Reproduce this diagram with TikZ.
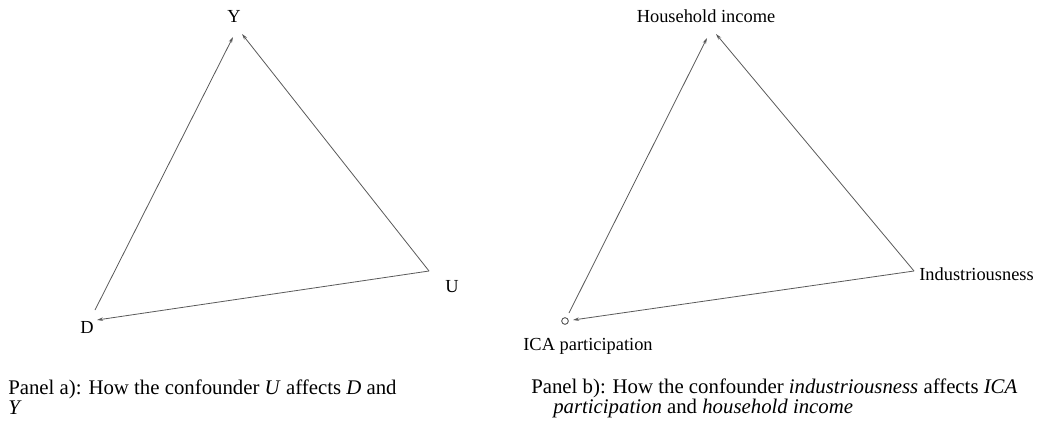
\documentclass[tikz,border=0pt]{standalone}
\usepackage{fontspec}
\setmainfont{Liberation Serif}
\usetikzlibrary{arrows.meta,positioning}
\tikzset{
    lbl/.style ={
        inner sep=0pt,
        text=black,
        font=\fontsize{13.8}{16}\selectfont
    },
    caption/.style ={
        inner sep=0pt,
        anchor=base west,
        align=left,
        text=black,
        font=\fontsize{15.6}{15}\selectfont
    },
    edge/.style ={
        draw=black!65,
        line width=0.6pt,
        -{Stealth[length=4.5pt,width=2.6pt]}
    }
}

\begin{document}
\begin{tikzpicture}[x=0.75pt,y=-0.75pt]
    \useasboundingbox (0,0) rectangle (1037,421);
    % panel a
    \coordinate (aDout) at (95,310);
    \coordinate (aDin) at (97,320);
    \coordinate (aYd) at (233,37);
    \coordinate (aYu) at (242,34);
    \coordinate (aU) at (429,271);
    \node[lbl] (Y) at (234,16) {Y};
    \node[lbl] (D) at (87,327) {D};
    \node[lbl] (U) at (452,287) {U};
    \draw[edge] (aDout) -- (aYd);
    \draw[edge] (aU) -- (aYu);
    \draw[edge] (aU) -- (aDin);
    \node[caption] (capa) at (8,414) {Panel a): How the confounder \textit{U} affects \textit{D} and\\\textit{Y}};
    % panel b
    \node[draw=black!75,circle,inner sep=0pt,minimum size=5pt,line width=0.6pt] (ica) at (565,321) {};
    \coordinate (bIout) at (569,313);
    \coordinate (bIin) at (573,320);
    \coordinate (bHi) at (707,38);
    \coordinate (bHu) at (716,34);
    \coordinate (bU) at (914,271);
    \node[lbl] (hh) at (706,16) {Household income};
    \node[lbl,anchor=west] (ind) at (919,274) {Industriousness};
    \node[lbl] (icalbl) at (588,346) {ICA participation};
    \draw[edge] (bIout) -- (bHi);
    \draw[edge] (bU) -- (bHu);
    \draw[edge] (bU) -- (bIin);
    \node[caption] (capb) at (531,413) {Panel b): How the confounder \textit{industriousness} affects \textit{ICA}\\\hspace*{16.5pt}\textit{participation} and \textit{household income}};
\end{tikzpicture}
\end{document}
